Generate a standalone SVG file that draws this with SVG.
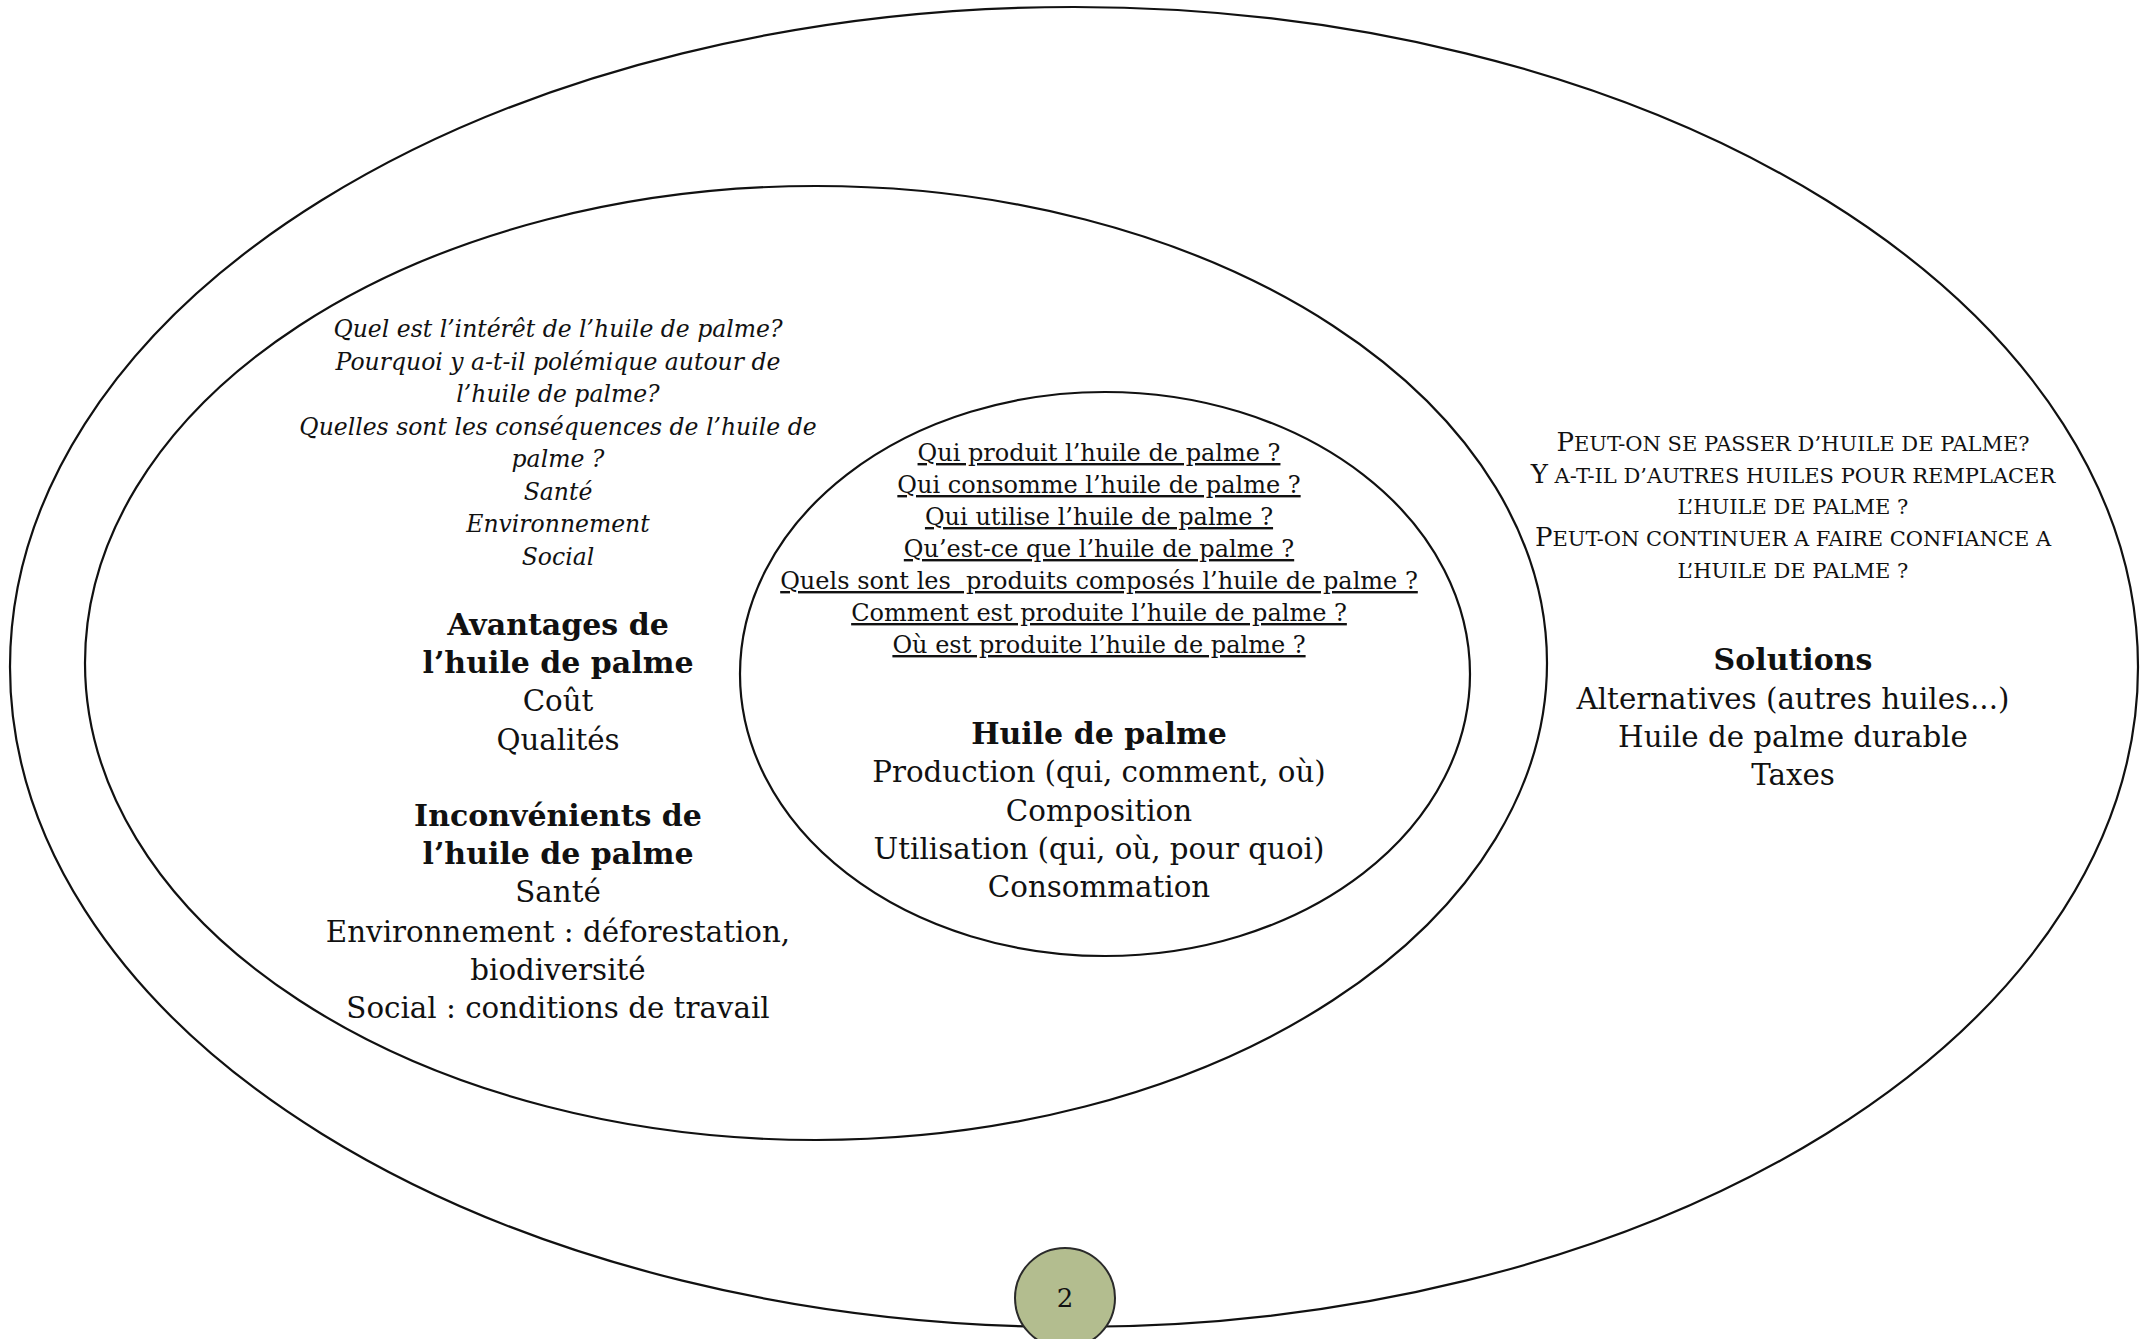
<svg xmlns="http://www.w3.org/2000/svg" width="2141" height="1339" viewBox="0 0 2141 1339">
<style>
.ring{fill:none;stroke:#111;stroke-width:2.2}
text{font-family:"DejaVu Serif","Liberation Serif",serif;fill:#111;text-anchor:middle}
.it{font-style:italic;font-size:23.5px}
.rg{font-size:29.3px}
.bd{font-weight:bold;font-size:30px}
.ul{font-size:24px;text-decoration:underline}
.sc{font-size:21px}
.cap{font-size:26px}
</style>
<rect width="2141" height="1339" fill="#fff"/>
<g id="outer-ring">
<ellipse class="ring" cx="1074" cy="667" rx="1064" ry="660"/>
</g>
<g id="middle-ring">
<ellipse class="ring" cx="816" cy="663" rx="731" ry="477"/>
</g>
<g id="inner-ring">
<ellipse class="ring" cx="1105" cy="674" rx="365" ry="282"/>
</g>
<g id="left-questions">
<text class="it" x="558" y="337">Quel est l’intérêt de l’huile de palme?</text>
<text class="it" x="558" y="369.5">Pourquoi y a-t-il polémique autour de</text>
<text class="it" x="558" y="402">l’huile de palme?</text>
<text class="it" x="558" y="434.5">Quelles sont les conséquences  de l’huile de</text>
<text class="it" x="558" y="467">palme ?</text>
<text class="it" x="558" y="499.5">Santé</text>
<text class="it" x="558" y="532">Environnement</text>
<text class="it" x="558" y="564.5">Social</text>
</g>
<g id="avantages">
<text class="bd" x="558" y="635">Avantages de</text>
<text class="bd" x="558" y="673">l’huile de palme</text>
<text class="rg" x="558" y="711">Coût</text>
<text class="rg" x="558" y="750">Qualités</text>
</g>
<g id="inconvenients">
<text class="bd" x="558" y="826">Inconvénients de</text>
<text class="bd" x="558" y="864">l’huile de palme</text>
<text class="rg" x="558" y="902">Santé</text>
<text class="rg" x="558" y="942">Environnement : déforestation,</text>
<text class="rg" x="558" y="980">biodiversité</text>
<text class="rg" x="558" y="1018">Social : conditions de travail</text>
</g>
<g id="inner-questions">
<text class="ul" x="1099" y="461">Qui produit l’huile de palme ?</text>
<text class="ul" x="1099" y="493">Qui consomme l’huile de palme ?</text>
<text class="ul" x="1099" y="525">Qui utilise l’huile de palme ?</text>
<text class="ul" x="1099" y="557">Qu’est-ce que l’huile de palme ?</text>
<text class="ul" x="1099" y="589" xml:space="preserve">Quels sont les  produits composés l’huile de palme ?</text>
<text class="ul" x="1099" y="621">Comment est produite l’huile de palme ?</text>
<text class="ul" x="1099" y="653">Où est produite l’huile de palme ?</text>
</g>
<g id="huile-de-palme">
<text class="bd" x="1099" y="744">Huile de palme</text>
<text class="rg" x="1099" y="782">Production (qui, comment, où)</text>
<text class="rg" x="1099" y="821">Composition</text>
<text class="rg" x="1099" y="859">Utilisation (qui, où, pour quoi)</text>
<text class="rg" x="1099" y="897">Consommation</text>
</g>
<g id="right-questions">
<text x="1793" y="451"><tspan class="cap">P</tspan><tspan class="sc">EUT-ON SE PASSER D’HUILE DE PALME?</tspan></text>
<text x="1793" y="483"><tspan class="cap">Y</tspan><tspan class="sc"> A-T-IL D’AUTRES HUILES POUR REMPLACER</tspan></text>
<text x="1793" y="514"><tspan class="sc">L’HUILE DE PALME ?</tspan></text>
<text x="1793" y="546"><tspan class="cap">P</tspan><tspan class="sc">EUT-ON CONTINUER A FAIRE CONFIANCE A</tspan></text>
<text x="1793" y="578"><tspan class="sc">L’HUILE DE PALME ?</tspan></text>
</g>
<g id="solutions">
<text class="bd" x="1793" y="670">Solutions</text>
<text class="rg" x="1793" y="709">Alternatives (autres huiles...)</text>
<text class="rg" x="1793" y="747">Huile de palme durable</text>
<text class="rg" x="1793" y="785">Taxes</text>
</g>
<g id="page-number">
<circle cx="1065" cy="1298" r="50" fill="#b3bd8f" stroke="#2a2a2a" stroke-width="2"/>
<text x="1065" y="1307" style="font-size:26px">2</text>
</g>
</svg>
